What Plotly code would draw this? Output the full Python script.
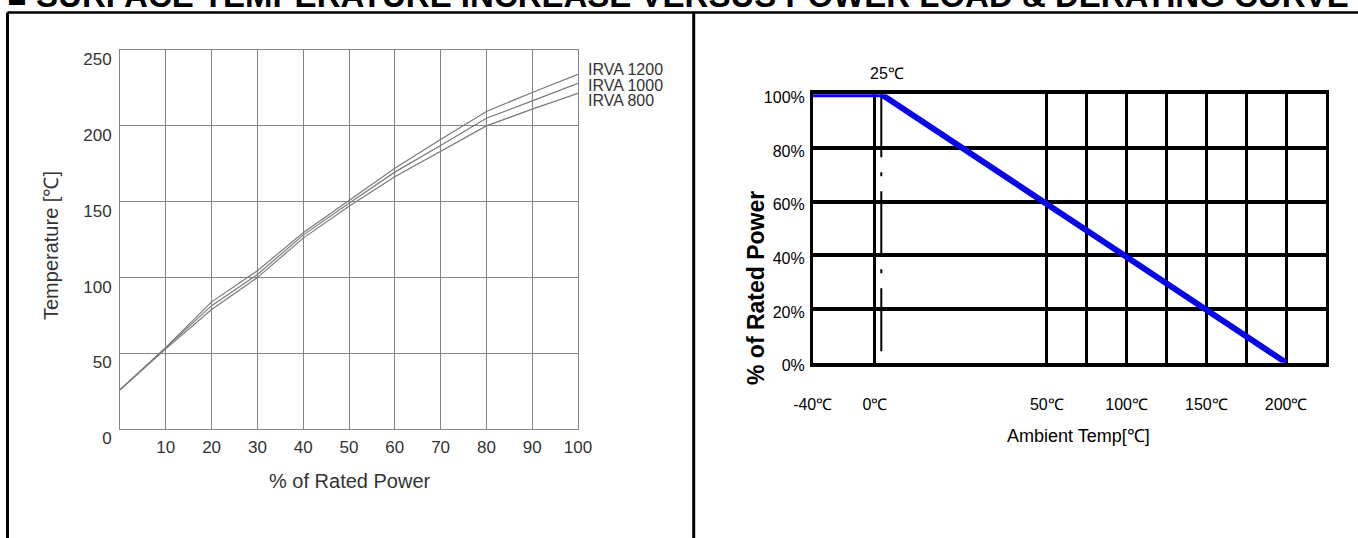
import numpy as np
import plotly.graph_objects as go

W, H = 1358, 538

# ---------------- Left chart: surface temperature vs power load ----------------
power_pct = [0, 10, 20, 30, 40, 50, 60, 70, 80, 90, 100]
temp_irva1200 = [26, 54, 84, 104.5, 129.5, 151, 172, 191, 209.5, 222, 234]
temp_irva1000 = [26, 53.5, 81.5, 102, 128, 149, 169.5, 187, 205, 216.5, 228]
temp_irva800 = [26, 53, 79, 100, 126, 147, 166.5, 183, 200, 211, 221.5]
series_names = ["IRVA 1200", "IRVA 1000", "IRVA 800"]
left_xticks = [10, 20, 30, 40, 50, 60, 70, 80, 90, 100]
left_yticks = [0, 50, 100, 150, 200, 250]

# ---------------- Right chart: derating curve ----------------
derate_temp = [-40, 25, 200]
derate_power = [100, 100, 0]
knee_temp = 25
right_xtick_temps = [-40, 0, 50, 100, 150, 200]
right_xtick_labels = ["-40℃", "0℃", "50℃", "100℃", "150℃", "200℃"]
right_minor_temps = [75, 125, 175]
right_yticks = [0, 20, 40, 60, 80, 100]
right_ytick_labels = ["0%", "20%", "40%", "60%", "80%", "100%"]
# the drawing uses a schematic (non-proportional) temperature scale
scale_temps = [-40, 0, 25, 50, 225]
scale_pos = [-5.87, -4.31, -4.15, 0, 7]


def tpos(t):
    return np.interp(t, scale_temps, scale_pos)


def fx(px):
    return px / W


def fy(py):
    return 1 - py / H


ARIAL = "Liberation Sans, Arial, sans-serif"
NARROW = "Liberation Sans Narrow, Arial Narrow, Liberation Sans, sans-serif"
GRAY_TXT = "#333333"

fig = go.Figure()

for name, vals in zip(series_names, [temp_irva1200, temp_irva1000, temp_irva800]):
    fig.add_trace(go.Scatter(x=power_pct, y=vals, mode="lines", name=name,
                             line=dict(color="#7a7a7a", width=1.2),
                             xaxis="x", yaxis="y", showlegend=False))

# 25 degC marker line
fig.add_trace(go.Scatter(x=[tpos(knee_temp)] * 2, y=[100, 0], mode="lines",
                         line=dict(color="black", width=2, dash="63px,15px,4px,15px"),
                         xaxis="x2", yaxis="y2", showlegend=False))
# derating curve
fig.add_trace(go.Scatter(x=tpos(derate_temp), y=derate_power, mode="lines",
                         line=dict(color="#0808e6", width=6),
                         xaxis="x2", yaxis="y2", showlegend=False))

fig.update_layout(
    width=W, height=H, margin=dict(l=0, r=0, t=0, b=0, pad=0, autoexpand=False),
    paper_bgcolor="white", plot_bgcolor="white", showlegend=False,
    xaxis=dict(domain=[fx(120), fx(578)], range=[0, 100], anchor="y", automargin=False,
               tickmode="array", tickvals=left_xticks, showgrid=True,
               gridcolor="#858585", gridwidth=1, showline=True, mirror=True,
               linecolor="#858585", linewidth=1, zeroline=False, ticks="",
               tickfont=dict(family=ARIAL, size=17, color=GRAY_TXT),
               ticklabelstandoff=2),
    yaxis=dict(domain=[fy(429.3), fy(50)], range=[0, 250], anchor="x", automargin=False,
               tickmode="array", tickvals=left_yticks, showgrid=True,
               gridcolor="#858585", gridwidth=1, showline=True, mirror=True,
               linecolor="#858585", linewidth=1, zeroline=False, ticks="",
               tickfont=dict(family=ARIAL, size=17, color=GRAY_TXT),
               ticklabelshift=9, ticklabelstandoff=4),
    xaxis2=dict(domain=[fx(812.7), fx(1326)], range=[tpos(-40), tpos(225)], anchor="y2",
                automargin=False,
                tickmode="array", tickvals=tpos(right_xtick_temps), ticktext=right_xtick_labels,
                showgrid=True, gridcolor="black", gridwidth=2.5,
                minor=dict(tickmode="array", tickvals=tpos(right_minor_temps),
                           showgrid=True, gridcolor="black", gridwidth=2.5, ticks=""),
                showline=True, mirror=True, linecolor="black", linewidth=4,
                zeroline=False, ticks="",
                tickfont=dict(family=NARROW, size=16, color="black"),
                ticklabelstandoff=24),
    yaxis2=dict(domain=[fy(362.7), fy(94.3)], range=[0, 100], anchor="x2", automargin=False,
                tickmode="array", tickvals=right_yticks, ticktext=right_ytick_labels,
                showgrid=True, gridcolor="black", gridwidth=4,
                showline=True, mirror=True, linecolor="black", linewidth=2.5,
                zeroline=False, ticks="",
                tickfont=dict(family=NARROW, size=16, color="black"),
                ticklabelshift=3, ticklabelstandoff=2),
)

ann = []
# page title (cut at the top edge)
ann.append(dict(text="■ SURFACE TEMPERATURE INCREASE VERSUS POWER LOAD & DERATING CURVE",
                xref="paper", yref="paper", x=fx(5), y=fy(16.5), xanchor="left", yanchor="bottom",
                showarrow=False, font=dict(family=ARIAL, size=33, color="black", weight="bold")))
# legend labels
for name, py in zip(series_names, [69.3, 85, 100.7]):
    ann.append(dict(text=name, xref="paper", yref="paper", x=fx(586), y=fy(py),
                    xanchor="left", yanchor="middle", showarrow=False,
                    font=dict(family=ARIAL, size=16, color=GRAY_TXT)))
ann.append(dict(text="% of Rated Power", xref="paper", yref="paper", x=fx(350), y=fy(481),
                xanchor="center", yanchor="middle", showarrow=False,
                font=dict(family=ARIAL, size=20, color=GRAY_TXT)))
ann.append(dict(text="Temperature [℃]", xref="paper", yref="paper", x=fx(51), y=fy(246),
                xanchor="center", yanchor="middle", showarrow=False, textangle=-90,
                font=dict(family=ARIAL, size=20, color=GRAY_TXT)))
ann.append(dict(text="% of Rated Power", xref="paper", yref="paper", x=fx(756), y=fy(288),
                xanchor="center", yanchor="middle", showarrow=False, textangle=-90,
                font=dict(family=ARIAL, size=23, color="black", weight="bold")))
ann.append(dict(text="Ambient Temp[℃]", xref="paper", yref="paper", x=fx(1078), y=fy(436),
                xanchor="center", yanchor="middle", showarrow=False,
                font=dict(family=NARROW, size=18, color="black")))
ann.append(dict(text="25℃", xref="x2", yref="y2", x=tpos(knee_temp), y=100,
                xanchor="center", yanchor="bottom", xshift=6, yshift=10, showarrow=False,
                font=dict(family=NARROW, size=16, color="black")))
fig.update_layout(annotations=ann)

# outer frame of the datasheet table
frame = [
    dict(x0=fx(7.5), x1=fx(7.5), y0=fy(12.5), y1=fy(540), width=3),
    dict(x0=fx(7.5), x1=fx(1360), y0=fy(12.5), y1=fy(12.5), width=2.5),
    dict(x0=fx(693.7), x1=fx(693.7), y0=fy(12.5), y1=fy(540), width=3),
]
for f in frame:
    fig.add_shape(type="line", xref="paper", yref="paper", x0=f["x0"], x1=f["x1"],
                  y0=f["y0"], y1=f["y1"], line=dict(color="black", width=f["width"]))

fig.write_html("out.html", config={"displayModeBar": False},
               post_script="document.body.style.margin='0';document.body.style.overflow='hidden';")
